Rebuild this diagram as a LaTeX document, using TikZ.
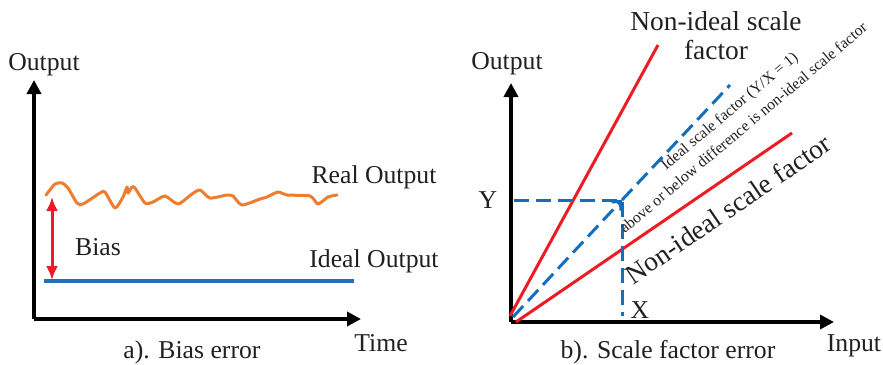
\documentclass[tikz,border=0pt]{standalone}
\usepackage{fontspec}
\setmainfont{Liberation Serif}
\usetikzlibrary{arrows.meta,positioning}
\definecolor{errRed}{RGB}{237,28,36}
\definecolor{errBlue}{RGB}{20,110,190}
\definecolor{errLine}{RGB}{40,110,180}
\definecolor{errOrange}{RGB}{237,125,49}
\definecolor{errText}{RGB}{35,31,32}
\tikzset{
    errAxis/.style={line width=2pt, draw=black, -{Triangle[length=7pt,width=7pt]}},
    errLabel/.style={font=\fontsize{12.85}{15}\selectfont, text=errText, inner sep=0pt},
    errBigLabel/.style={font=\fontsize{13.7}{14.5}\selectfont, text=errText, inner sep=0pt, align=center},
    errSmallLabel/.style={font=\fontsize{7.85}{11}\selectfont, text=errText, inner sep=0pt, align=center},
    % lines
    errFactor/.style={line width=1.5pt, draw=errRed},
    errIdeal/.style={line width=1.5pt, draw=errBlue, dash pattern=on 7.5pt off 3.5pt},
    errBias/.style={line width=1.5pt, draw=errRed, {Latex[length=7pt,width=6pt]}-{Latex[length=7pt,width=6pt]}}
}
\begin{document}
\begin{tikzpicture}[x=0.5pt, y=-0.5pt]
    \useasboundingbox (0,0) rectangle (883,364);

    % a) bias error
    \coordinate (aOrig) at (34,319);
    \coordinate (aTop) at (34,80);
    \coordinate (aRight) at (361,319);
    \draw[errAxis] (aOrig) -- (aTop);
    \draw[errAxis] (aOrig) -- (aRight);
    \node[errLabel] (aOut) at (44,65) {Output};
    \node[errLabel] (aTime) at (381,343) {Time};
    \node[errLabel] (aCap) at (192,352) {a). Bias error};

    \coordinate (idealL) at (44,281);
    \coordinate (idealR) at (354,281);
    \draw[line width=1.6pt, draw=errLine] (idealL) -- (idealR);
    \draw[line width=1.5pt, draw=errOrange, line join=round, line cap=round]
        plot[smooth, tension=0.4] coordinates {(46,195) (55,184) (62,183) (68,188) (77,203) (83,204)
        (100,193) (105,192) (115,208) (123,197) (127,187) (128,193) (132,187) (135,188) (145,203)
        (153,202) (165,196) (178,204) (192,194) (200,190) (210,198) (227,195) (233,196) (242,205)
        (260,199) (267,197) (278,192) (287,195) (310,196) (318,204) (328,197) (337,195)};
    \coordinate (biasTop) at (52,197);
    \coordinate (biasBot) at (52,280);
    \draw[errBias] (biasTop) -- (biasBot);
    \node[errLabel] (biasLbl) at (98,247) {Bias};
    \node[errLabel] (realLbl) at (374,177) {Real Output};
    \node[errLabel] (idealLbl) at (374,261) {Ideal Output};

    % b) scale factor error
    \coordinate (bOrig) at (511,322);
    \coordinate (bTop) at (511,83);
    \coordinate (bRight) at (834,322);
    \draw[errAxis] (bOrig) -- (bTop);
    \draw[errAxis] (bOrig) -- (bRight);
    \node[errLabel] (bOut) at (507,64) {Output};
    \node[errLabel] (bIn) at (854,346) {Input};
    \node[errLabel] (bCap) at (668,352) {b). Scale factor error};

    \coordinate (steepEnd) at (658,45);
    \coordinate (flatStart) at (516,322);
    \coordinate (flatEnd) at (792,133);
    \draw[errFactor] (510,316) -- (steepEnd);
    \draw[errFactor] (flatStart) -- (flatEnd);

    \coordinate (corner) at (622,200);
    \coordinate (diagEnd) at (730,85);
    \coordinate (xFoot) at (622,316);
    \coordinate (yFoot) at (514,200);
    \draw[errIdeal, -{Straight Barb[angle=90:4.5pt]}] (513,317) -- (corner);
    \draw[errIdeal] (corner) -- (diagEnd);
    \draw[errIdeal] (yFoot) -- (corner) -- (xFoot);
    \node[errLabel] (yLbl) at (488,200) {Y};
    \node[errLabel] (xLbl) at (640,310) {X};

    \node[errBigLabel] (steepLbl) at (716,36) {Non-ideal scale\\factor};
    \node[errBigLabel, rotate=34.3] (flatLbl) at (728,209) {Non-ideal scale factor};
    \node[errSmallLabel, rotate=40] (idealNote) at (736,119)
        {Ideal scale factor (Y/X = 1)\\above or below difference is non-ideal scale factor};
\end{tikzpicture}
\end{document}
